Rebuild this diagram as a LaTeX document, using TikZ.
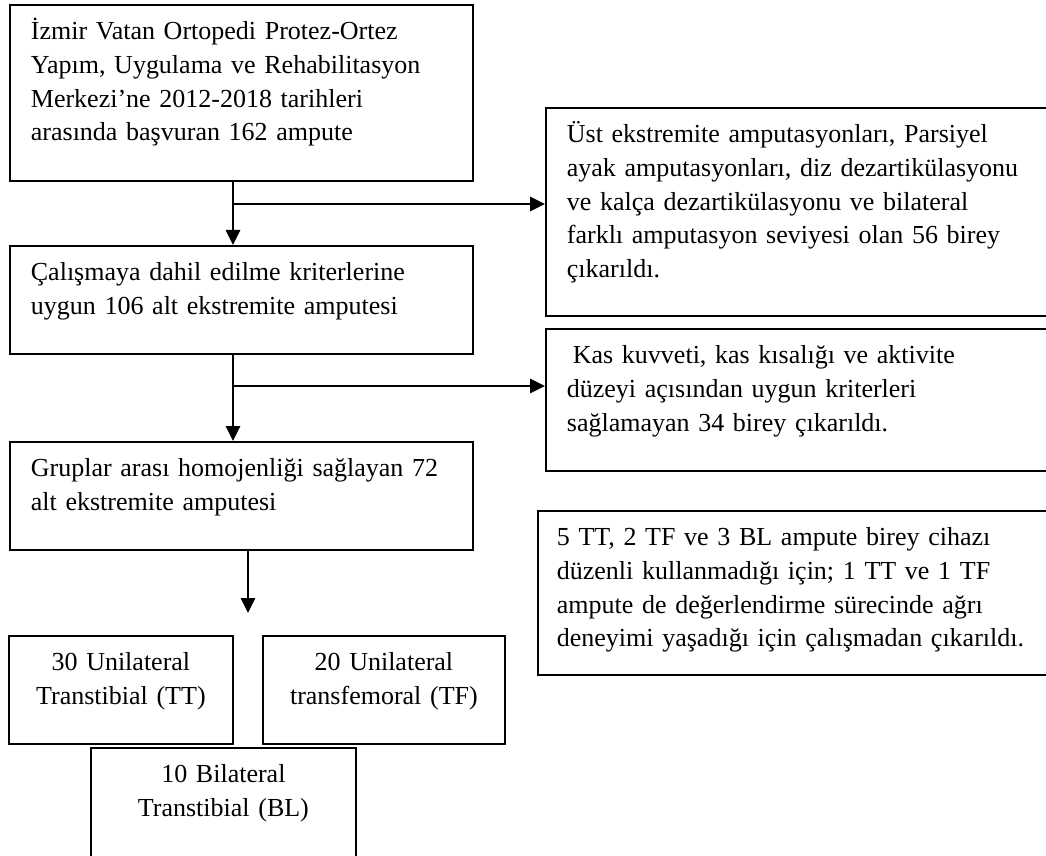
\documentclass[tikz,border=0pt]{standalone}
\usepackage{fontspec}
\setmainfont{Liberation Serif}
\usetikzlibrary{arrows.meta}
\tikzset{
  kutu/.style={draw, line width=0.9pt, anchor=north west, align=left,
    inner xsep=10.5pt, inner ysep=8.5pt, text height=9pt, text depth=#1},
  grup/.style={kutu=#1, align=center},
  ok/.style={line width=1.3pt, -{Triangle[length=7.5pt,width=7pt]}}
}
\begin{document}
\begin{tikzpicture}[x=0.5pt, y=-0.5pt, font=\fontsize{13}{16.8}\selectfont]
            \useasboundingbox (0,0) rectangle (1046,856);
            \clip (0,0) rectangle (1046,856);
            % sol sutun
            \node[kutu=62pt, text width=210.5pt] (b1) at (9,4) {İzmir Vatan Ortopedi Protez-Ortez\\ Yapım, Uygulama ve Rehabilitasyon\\ Merkezi’ne 2012-2018 tarihleri\\ arasında başvuran 162 ampute};
            \node[kutu=28pt, text width=210.5pt] (b2) at (9,245) {Çalışmaya dahil edilme kriterlerine\\ uygun 106 alt ekstremite amputesi};
            \node[kutu=28pt, text width=210.5pt] (b3) at (9,441) {Gruplar arası homojenliği sağlayan 72\\ alt ekstremite amputesi};
            \node[grup=28pt, text width=91pt] (tt) at (8,635) {30 Unilateral\\ Transtibial (TT)};
            \node[grup=28pt, text width=100pt] (tf) at (262,635) {20 Unilateral\\ transfemoral (TF)};
            \node[grup=45pt, text width=111.5pt] (bl) at (90,747) {10 Bilateral\\ Transtibial (BL)};
            % sag sutun
            \node[kutu=78pt, text width=240pt] (r1) at (545,107) {Üst ekstremite amputasyonları, Parsiyel\\ ayak amputasyonları, diz dezartikülasyonu\\ ve kalça dezartikülasyonu ve bilateral\\ farklı amputasyon seviyesi olan 56 birey\\ çıkarıldı.};
            \node[kutu=45pt, text width=240pt] (r2) at (545,328) {\hspace*{3pt}Kas kuvveti, kas kısalığı ve aktivite\\ düzeyi açısından uygun kriterleri\\ sağlamayan 34 birey çıkarıldı.};
            \node[kutu=56pt, text width=245pt, inner xsep=9.5pt] (r3) at (537,510) {5 TT, 2 TF ve 3 BL ampute birey cihazı\\ düzenli kullanmadığı için; 1 TT ve 1 TF\\ ampute de değerlendirme sürecinde ağrı\\ deneyimi yaşadığı için çalışmadan çıkarıldı.};
            % oklar
            \coordinate (d1) at (233,204);
            \coordinate (d2) at (233,386);
            \coordinate (u3) at (248,613);
            \draw[ok] (b1.south -| d1) -- (b2.north -| d1);
            \draw[ok] (d1) -- (d1 -| r1.west);
            \draw[ok] (b2.south -| d2) -- (b3.north -| d2);
            \draw[ok] (d2) -- (d2 -| r2.west);
            \draw[ok] (b3.south -| u3) -- (u3);
\end{tikzpicture}
\end{document}
